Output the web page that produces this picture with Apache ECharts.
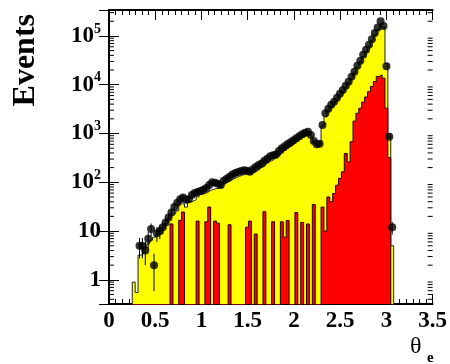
<!DOCTYPE html>
<html>
<head>
<meta charset="utf-8">
<script src="https://cdn.jsdelivr.net/npm/echarts@6/dist/echarts.min.js"></script>
<style>
html,body{margin:0;padding:0;background:#fff;}
#chart{width:450px;height:364px;}
</style>
</head>
<body>
<div id="chart"></div>
<script>
// theta_e : data points over MC (yellow = total, red = signal), log y
var NBINS = 100, XLO = 0, XHI = Math.PI;   // histogram binning
var FIRST_BIN = 8;                         // arrays below start at this bin

var mcTotal = [
  0.9, 0.55, 3.2, 3.5, 4.5, 5.5, 6.5, 7.5, 8.5, 10,
  11.5, 14, 18, 22, 23, 26, 36, 36, 31, 40,
  41, 44, 50, 56, 59, 62, 68, 72, 74, 76,
  80, 96, 102, 108, 118, 125, 133, 140, 146, 150,
  152, 160, 170, 185, 205, 225, 250, 275, 300, 320,
  355, 400, 450, 500, 550, 610, 680, 760, 840, 900,
  930, 860, 650, 560, 600, 1400, 2200, 2900, 3500, 4200,
  5000, 6000, 7200, 8800, 10800, 13500, 17500, 23000, 29000, 38000,
  48000, 61000, 80000, 105000, 135000, 165000, 150000, 27000, 1000, 5
];

var mcSignal = [
  0, 0, 0, 0, 0, 0, 0, 0, 0, 0,
  0, 0, 0, 14, 0, 0, 16.6, 24.6, 0, 0,
  0, 0, 16, 0, 0, 15.5, 31, 0, 16, 14.5,
  0, 0, 0, 13.5, 0, 0, 0, 0, 0, 12,
  16, 0, 8.7, 0, 0, 25, 0, 0, 15.5, 0,
  0, 15.5, 7.5, 16.5, 0, 0, 24, 0, 15, 0,
  14, 0, 35, 0, 0, 31, 10, 50, 40, 59,
  87, 120, 164, 390, 262, 680, 1800, 2600, 3300, 4400,
  5600, 7200, 9200, 11600, 14700, 15900, 13600, 3300, 320, 0
];

var dataCounts = [
  0, 0, 5, 5, 4, 7, 11, 2, 9, 10,
  12, 15, 19, 24, 31, 38, 45, 49, 44, 45,
  55, 60, 63, 66, 70, 76, 88, 100, 98, 93,
  88, 108, 118, 130, 145, 155, 163, 170, 176, 172,
  165, 185, 205, 225, 243, 275, 305, 340, 360, 370,
  440, 500, 550, 610, 660, 730, 800, 880, 970, 1040,
  1090, 930, 700, 600, 620, 1500, 2600, 3200, 3900, 4500,
  5400, 6500, 7800, 9500, 11500, 14500, 18500, 24500, 31000, 41000,
  52000, 66000, 85000, 115000, 148000, 200000, 160000, 24000, 860, 12
];

var xTicks = [0, 0.5, 1, 1.5, 2, 2.5, 3, 3.5];
var yDecades = [0, 1, 2, 3, 4, 5];
var yMinorFactors = [2, 3, 4, 5, 6, 7, 8, 9];

var YMIN = 0.32, YMAX = 3.4e5, EMPTY = 1e-3;
var FONT = '"Liberation Serif", "DejaVu Serif", serif';

var bw = (XHI - XLO) / NBINS;
function edge(k) { return XLO + k * bw; }

// step outline through bin edges
function stepPoints(vals) {
  var pts = [[edge(FIRST_BIN), EMPTY]];
  vals.forEach(function (v, i) { pts.push([edge(FIRST_BIN + i), v > 0 ? v : EMPTY]); });
  pts.push([edge(FIRST_BIN + vals.length), EMPTY]);
  return pts;
}

var dataPts = [], errPts = [];
dataCounts.forEach(function (n, i) {
  if (n <= 0) return;
  var x = edge(FIRST_BIN + i) + bw / 2, e = Math.sqrt(n);
  dataPts.push([x, n]);
  errPts.push([x, n, Math.max(n - e, EMPTY), n + e]);
});

var minorTickVals = [];
[-1].concat(yDecades).forEach(function (d) {
  yMinorFactors.forEach(function (f) {
    var v = f * Math.pow(10, d);
    if (v > YMIN && v < YMAX) minorTickVals.push([0, v]);
  });
});

function yLabel(v) {
  var e = Math.log10(v), r = Math.round(e);
  if (Math.abs(e - r) > 1e-6 || yDecades.indexOf(r) < 0) return '';
  if (r === 0) return '1';
  if (r === 1) return '10';
  return '10{s|' + r + '}';
}

var chart = echarts.init(document.getElementById('chart'));

var xBase = {
  type: 'value', min: 0, max: 3.5, interval: 0.5,
  axisLine: { show: true, onZero: false, lineStyle: { color: '#000', width: 2 } },
  axisTick: { show: true, inside: true, length: 10, lineStyle: { color: '#000', width: 1 } },
  minorTick: { show: true, splitNumber: 7, length: 5, lineStyle: { color: '#000', width: 1 } },
  splitLine: { show: false }
};
var yBase = {
  type: 'log', min: YMIN, max: YMAX, logBase: 10,
  axisLine: { show: true, lineStyle: { color: '#000', width: 2 } },
  axisTick: { show: true, inside: true, length: 10, lineStyle: { color: '#000', width: 1 } },
  splitLine: { show: false }
};

chart.setOption({
  animation: false,
  backgroundColor: '#fff',
  grid: { left: 109, right: 14, top: 10, bottom: 60 },
  xAxis: [
    Object.assign({}, xBase, {
      position: 'bottom',
      axisLabel: {
        show: true, margin: 6, color: '#000', fontFamily: FONT, fontWeight: 'bold', fontSize: 23,
        showMinLabel: true, showMaxLabel: true,
        formatter: function (v) { return xTicks.indexOf(+v.toFixed(2)) >= 0 ? String(+v.toFixed(2)) : ''; }
      }
    }),
    Object.assign({}, xBase, { position: 'top', axisLabel: { show: false } })
  ],
  yAxis: [
    Object.assign({}, yBase, {
      position: 'left',
      axisLabel: {
        show: true, margin: 8, color: '#000', fontFamily: FONT, fontWeight: 'bold', fontSize: 23,
        formatter: yLabel,
        rich: { s: { fontFamily: FONT, fontWeight: 'bold', fontSize: 14, color: '#000', verticalAlign: 'top', padding: [0, 0, 14, 0] } }
      }
    }),
    Object.assign({}, yBase, { position: 'right', axisLabel: { show: false } })
  ],
  series: [
    {
      name: 'total', type: 'line', step: 'end', data: stepPoints(mcTotal),
      symbol: 'none', clip: true, z: 2,
      lineStyle: { color: '#222', width: 1 },
      areaStyle: { color: '#ffff00', opacity: 1, origin: 'start' }
    },
    {
      name: 'signal', type: 'line', step: 'end', data: stepPoints(mcSignal),
      symbol: 'none', clip: true, z: 3,
      lineStyle: { color: '#200', width: 1 },
      areaStyle: { color: '#ff0000', opacity: 1, origin: 'start' }
    },
    {
      name: 'err', type: 'custom', data: errPts, clip: true, z: 4,
      renderItem: function (params, api) {
        var a = api.coord([api.value(0), api.value(3)]);
        var b = api.coord([api.value(0), api.value(2)]);
        return { type: 'line', shape: { x1: a[0], y1: a[1], x2: b[0], y2: b[1] },
                 style: { stroke: '#000', lineWidth: 1 } };
      }
    },
    {
      name: 'data', type: 'scatter', data: dataPts, symbol: 'circle', symbolSize: 8,
      itemStyle: { color: '#000' }, z: 5, clip: true
    },
    {
      name: 'yminor', type: 'custom', data: minorTickVals, z: 6, silent: true,
      renderItem: function (params, api) {
        var l = api.coord([0, api.value(1)]);
        var r = api.coord([3.5, api.value(1)]);
        return { type: 'group', children: [
          { type: 'line', shape: { x1: l[0], y1: l[1], x2: l[0] + 5, y2: l[1] }, style: { stroke: '#000', lineWidth: 1 } },
          { type: 'line', shape: { x1: r[0], y1: r[1], x2: r[0] - 5, y2: r[1] }, style: { stroke: '#000', lineWidth: 1 } }
        ] };
      }
    }
  ],
  graphic: [
    { type: 'text', x: 10, y: 14, rotation: Math.PI / 2,
      style: { text: 'Events', font: 'bold 32px ' + FONT, fill: '#000', align: 'right', verticalAlign: 'top' } },
    { type: 'text', x: 410, y: 335,
      style: { text: 'θ', font: '24px ' + FONT, fill: '#000', align: 'left', verticalAlign: 'top' } },
    { type: 'text', x: 427, y: 351,
      style: { text: 'e', font: 'bold 15px ' + FONT, fill: '#000', align: 'left', verticalAlign: 'top' } }
  ]
});
</script>
</body>
</html>
